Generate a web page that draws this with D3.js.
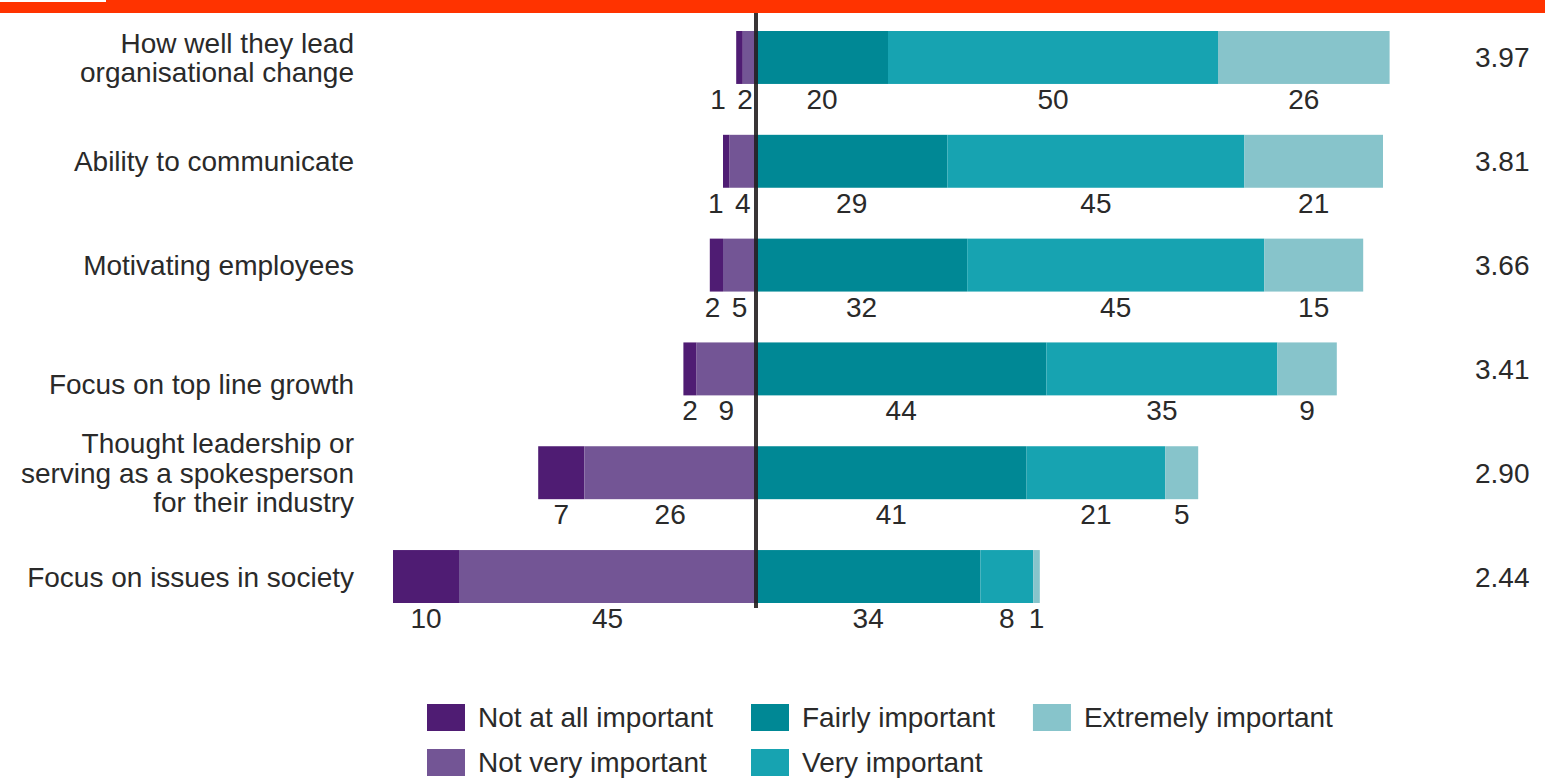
<!DOCTYPE html>
<html>
<head>
<meta charset="utf-8">
<script src="https://cdn.jsdelivr.net/npm/d3@7"></script>
<style>
  html, body { margin: 0; padding: 0; background: #fff; }
  svg text { font-family: "Liberation Sans", Arial, sans-serif; fill: #2a2a2a; }
</style>
</head>
<body>
<div class="chart"></div>
<script>
// categories, one array of lines per row
const categories = [
  ["How well they lead", "organisational change"],
  ["Ability to communicate"],
  ["Motivating employees"],
  ["", "Focus on top line growth"],
  ["Thought leadership or", "serving as a spokesperson", "for their industry"],
  ["Focus on issues in society"]
]

const notAtAll  = [1, 1, 2, 2, 7, 10]
const notVery   = [2, 4, 5, 9, 26, 45]
const fairly    = [20, 29, 32, 44, 41, 34]
const very      = [50, 45, 45, 35, 21, 8]
const extremely = [26, 21, 15, 9, 5, 1]
const means     = ["3.97", "3.81", "3.66", "3.41", "2.90", "2.44"]

const keys = ["Not at all important", "Not very important", "Fairly important", "Very important", "Extremely important"]
const colours = ["#4f1c73", "#735595", "#008895", "#17a3b1", "#87c4cb"]

const width = 1545
const height = 778
const fontSize = 28

const svg = d3.select(".chart")
  .append("svg")
  .attr("width", width)
  .attr("height", height)

// top banner
svg.append("rect").attr("x", 0).attr("y", 0).attr("width", width).attr("height", 13).attr("fill", "#ff3300")
svg.append("rect").attr("x", 0).attr("y", 0).attr("width", 106).attr("height", 2).attr("fill", "#fff")

const xScale = d3.scaleLinear().domain([-60, 100]).range([360, 1416])
const yScale = d3.scaleBand()
  .domain(d3.range(categories.length))
  .range([31, 603])
  .paddingInner(0.49)
  .paddingOuter(0)

const colour = d3.scaleOrdinal().domain(keys).range(colours)

const rows = categories.map((c, i) => {
  const left = [
    {key: keys[0], v: notAtAll[i], x0: -(notVery[i] + notAtAll[i]), x1: -notVery[i]},
    {key: keys[1], v: notVery[i], x0: -notVery[i], x1: 0}
  ]
  const right = [
    {key: keys[2], v: fairly[i], x0: 0, x1: fairly[i]},
    {key: keys[3], v: very[i], x0: fairly[i], x1: fairly[i] + very[i]},
    {key: keys[4], v: extremely[i], x0: fairly[i] + very[i], x1: fairly[i] + very[i] + extremely[i]}
  ]
  return {i, lines: c, left, right, mean: means[i]}
})

const bh = yScale.bandwidth()
const zero = xScale(0)

const row = svg.selectAll(".row")
  .data(rows)
  .join("g")
  .attr("class", "row")
  .attr("transform", d => "translate(0," + yScale(d.i) + ")")

row.selectAll("rect")
  .data(d => d.left.concat(d.right))
  .join("rect")
  .attr("x", d => xScale(d.x0))
  .attr("width", d => xScale(d.x1) - xScale(d.x0))
  .attr("height", bh)
  .attr("fill", d => colour(d.key))

// value labels, pushed apart where segments are small
row.each(function(d) {
  const g = d3.select(this)
  let prev = zero - 11 + 27
  d.left.slice().reverse().forEach(s => {
    const c = (xScale(s.x0) + xScale(s.x1)) / 2
    s.lx = Math.min(c, prev - 27)
    prev = s.lx
  })
  prev = zero + 14 - 24
  d.right.forEach(s => {
    const c = (xScale(s.x0) + xScale(s.x1)) / 2
    s.lx = Math.max(c, prev + 24)
    prev = s.lx
  })
  g.selectAll(".val")
    .data(d.left.concat(d.right))
    .join("text")
    .attr("class", "val")
    .attr("x", s => s.lx)
    .attr("y", bh + 25)
    .attr("text-anchor", "middle")
    .style("font-size", fontSize + "px")
    .text(s => s.v)

  g.append("text")
    .attr("x", 1475)
    .attr("y", bh / 2 + 10)
    .style("font-size", fontSize + "px")
    .text(d.mean)

  const lh = 29.5
  g.append("text")
    .attr("text-anchor", "end")
    .style("font-size", fontSize + "px")
    .selectAll("tspan")
    .data(d.lines)
    .join("tspan")
    .attr("x", 354)
    .attr("y", (l, j) => bh / 2 + (j - (d.lines.length - 1) / 2) * lh + 10)
    .text(l => l)
})

// zero line
svg.append("line")
  .attr("x1", zero).attr("x2", zero)
  .attr("y1", 13).attr("y2", 608)
  .attr("stroke", "#231f20")
  .attr("stroke-opacity", 0.9)
  .attr("stroke-width", 4)

// legend, two rows, filled column by column
const legend = svg.append("g").attr("class", "legend")
const items = legend.selectAll("g")
  .data(keys)
  .join("g")

items.append("rect")
  .attr("width", 38)
  .attr("height", 27)
  .attr("fill", d => colour(d))

items.append("text")
  .attr("x", 51)
  .attr("y", 23)
  .style("font-size", fontSize + "px")
  .text(d => d)

const colW = []
items.each(function(d, i) {
  const w = d3.select(this).select("text").node().getComputedTextLength() + 51
  const c = Math.floor(i / 2)
  colW[c] = Math.max(colW[c] || 0, w)
})
const colX = [427]
for (let c = 1; c < colW.length; c++) colX[c] = colX[c - 1] + colW[c - 1] + 38

items.attr("transform", (d, i) => "translate(" + colX[Math.floor(i / 2)] + "," + (704 + (i % 2) * 45) + ")")
</script>
</body>
</html>
